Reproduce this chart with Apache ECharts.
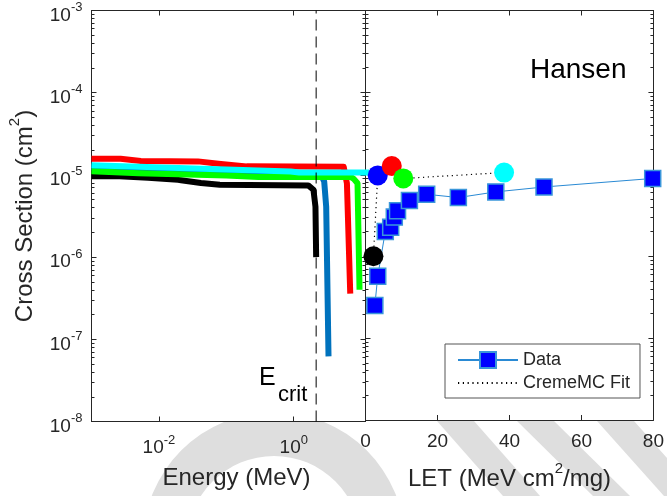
<!DOCTYPE html>
<html><head><meta charset="utf-8">
<script src="https://cdn.jsdelivr.net/npm/echarts@6/dist/echarts.min.js"></script>
<style>html,body{margin:0;padding:0;background:#fff}#chart{width:667px;height:496px}</style>
</head><body><div id="chart"></div>
<script>
// Cross section vs. deposited energy for each strike (MeV, cm^2)
const blackCurve = [[0.001,9.6e-6],[0.0026,9.6e-6],[0.0069,9.2e-6],[0.0192,8.7e-6],[0.0213,8.6e-6],[0.042,7.95e-6],[0.08,7.6e-6],[1.64,7.45e-6],[1.96,6.6e-6],[2.10,4.1e-6],[2.15,1.0e-6]];
const blueCurve = [[0.001,1.24e-5],[0.1,1.1e-5],[0.9,1.02e-5],[2.6,9.6e-6],[2.83,8.3e-6],[3.03,4.1e-6],[3.28,6.2e-8]];
const redCurve = [[0.001,1.57e-5],[0.0027,1.57e-5],[0.0054,1.48e-5],[0.038,1.46e-5],[0.083,1.36e-5],[0.2,1.27e-5],[5.5,1.26e-5],[5.8,1.2e-5],[6.15,7.9e-6],[6.89,3.6e-7]];
const greenCurve = [[0.001,1.11e-5],[0.005,1.05e-5],[0.1,9.8e-6],[0.3,9.4e-6],[7.1,9.4e-6],[7.71,9.0e-6],[8.83,7.9e-6],[9.46,4.0e-7]];
const cyanCurve = [[0.001,1.31e-5],[0.1,1.16e-5],[0.9,1.1e-5],[1.2,1.07e-5],[20,1.07e-5]];
const ECRIT = 2.15;

// Heavy-ion test data (LET in MeV cm^2/mg)
const letData = [2.6, 3.4, 5.5, 7.0, 8.0, 8.9, 12.2, 17.0, 25.8, 36.2, 49.6, 79.8];
const xsData = [2.5e-7, 5.7e-7, 2.0e-6, 2.25e-6, 3.0e-6, 3.6e-6, 4.8e-6, 5.7e-6, 5.2e-6, 6.1e-6, 7.0e-6, 8.9e-6];

// CREME-MC fit points
const fitLet = [2.2, 3.4, 7.3, 10.5, 38.5];
const fitXs = [1.0e-6, 9.7e-6, 1.26e-5, 8.9e-6, 1.05e-5];
const fitColors = ['#000000', '#0000ff', '#ff0000', '#00ff00', '#00ffff'];

// Axis ticks
const yMajor = [1e-8, 1e-7, 1e-6, 1e-5, 1e-4, 1e-3];
const energyTicks = [0.01, 1];
const FONT = "'Liberation Sans', Arial, Helvetica, sans-serif";
const INK = '#262626';
const SHADE = '#dedede';

const yMinor = [];
for (let k = -8; k < -3; k++) for (let m = 2; m <= 9; m++) yMinor.push(m * Math.pow(10, k));

const pow10 = v => '{b|10}{s|' + Math.round(Math.log10(v)) + '}';
const supRich = {
  b: {fontSize: 19, fontFamily: FONT, color: INK, verticalAlign: 'bottom'},
  s: {fontSize: 13, fontFamily: FONT, color: INK, verticalAlign: 'top', padding: [5, 0, 11, 0]}
};
const nameRich = {
  a: {fontSize: 24, fontFamily: FONT, color: INK, verticalAlign: 'bottom'},
  s: {fontSize: 15, fontFamily: FONT, color: INK, verticalAlign: 'top', padding: [5, 0, 15, 0]}
};
const line = {show: true, lineStyle: {color: INK, width: 1}};

function yAxes(grid, side, labels) {
  return [
    {type: 'log', gridIndex: grid, position: side, min: 1e-8, max: 1e-3,
     axisLine: line, splitLine: {show: false},
     axisTick: {inside: true, length: 5, customValues: yMajor, lineStyle: {color: INK}},
     axisLabel: labels ? {show: true, customValues: yMajor, formatter: pow10, rich: supRich, margin: 9} : {show: false},
     ...(labels ? {name: '{a|Cross Section (cm}{s|2}{a|)}', nameLocation: 'middle', nameGap: 54, nameRotate: 90,
       nameMoveOverlap: false, nameTextStyle: {rich: nameRich}} : {})},
    {type: 'log', gridIndex: grid, position: side, min: 1e-8, max: 1e-3,
     axisLine: {show: false}, splitLine: {show: false}, axisLabel: {show: false},
     axisTick: {inside: true, length: 3, customValues: yMinor, lineStyle: {color: INK}}}
  ];
}

const curve = (data, color) => ({
  type: 'line', xAxisIndex: 0, yAxisIndex: 0, data, symbol: 'none', silent: true,
  lineStyle: {color, width: 6, cap: 'butt', join: 'round'}, clip: true
});

// slanted background band: left edge from (x0, 423) to (x1, 496), given width
const band = (x0, x1, w) => ({
  type: 'polygon', z: -100, silent: true,
  shape: {points: [[x0, 421], [x0 + w, 421], [x1 + w, 496], [x1, 496]]},
  style: {fill: SHADE}
});

const option = {
  animation: false,
  backgroundColor: '#fff',
  grid: [
    {left: 91.5, top: 10.5, width: 274, height: 411, show: true, backgroundColor: '#fff', borderWidth: 0},
    {left: 365.5, top: 10.5, width: 290.5, height: 411, show: true, backgroundColor: '#fff', borderWidth: 0}
  ],
  xAxis: [
    {type: 'log', gridIndex: 0, position: 'bottom', min: 0.001, max: 11.6,
     axisLine: line, splitLine: {show: false},
     axisTick: {inside: true, length: 5, customValues: energyTicks, lineStyle: {color: INK}},
     axisLabel: {customValues: energyTicks, formatter: pow10, rich: supRich, margin: 7},
     name: 'Energy (MeV)', nameLocation: 'middle', nameGap: 45, nameMoveOverlap: false,
     nameTextStyle: {fontSize: 24, fontFamily: FONT, color: INK, padding: [0, 0, 0, 16]}},
    {type: 'log', gridIndex: 0, position: 'top', min: 0.001, max: 11.6,
     axisLine: line, splitLine: {show: false}, axisLabel: {show: false},
     axisTick: {inside: true, length: 5, customValues: energyTicks, lineStyle: {color: INK}}},
    {type: 'value', gridIndex: 1, position: 'bottom', min: 0, max: 80, interval: 20,
     axisLine: line, splitLine: {show: false},
     axisTick: {inside: true, length: 5, lineStyle: {color: INK}},
     axisLabel: {fontSize: 19, fontFamily: FONT, color: INK, margin: 12},
     name: '{a|LET (MeV cm}{s|2}{a|/mg)}', nameLocation: 'middle', nameGap: 36, nameMoveOverlap: false,
     nameTextStyle: {rich: nameRich}},
    {type: 'value', gridIndex: 1, position: 'top', min: 0, max: 80, interval: 20,
     axisLine: line, splitLine: {show: false}, axisLabel: {show: false},
     axisTick: {inside: true, length: 5, lineStyle: {color: INK}}}
  ],
  yAxis: [
    ...yAxes(0, 'left', true),
    ...yAxes(0, 'right', false),
    ...yAxes(1, 'left', false),
    ...yAxes(1, 'right', false)
  ],
  legend: {
    data: ['Data', {name: 'CremeMC Fit', itemStyle: {opacity: 0}}], orient: 'vertical', left: 445, top: 344,
    itemWidth: 60, itemHeight: 20, itemGap: 5, padding: [7, 10, 6, 12],
    backgroundColor: '#fff', borderColor: '#555', borderWidth: 1, selectedMode: false,
    textStyle: {fontSize: 18, fontFamily: FONT, color: INK}
  },
  graphic: [
    // faint background emblem, sitting behind the axes panels
    {type: 'ring', z: -100, silent: true, shape: {cx: 274, cy: 543, r: 131, r0: 87}, style: {fill: SHADE}},
    band(437, 503, 37),
    band(517, 593, 37),
    band(597, 664, 37),
    {type: 'text', left: 530, top: 56, style: {text: 'Hansen', font: '28px ' + FONT, fill: '#000'}},
    {type: 'text', left: 259, top: 366, style: {text: 'E', font: '25px ' + FONT, fill: '#000'}},
    {type: 'text', left: 278, top: 384, style: {text: 'crit', font: '22px ' + FONT, fill: '#000'}}
  ],
  series: [
    curve(blackCurve, '#000000'),
    curve(blueCurve, '#0072BD'),
    curve(redCurve, '#ff0000'),
    curve(greenCurve, '#00ff00'),
    curve(cyanCurve, '#00ffff'),
    {type: 'line', xAxisIndex: 0, yAxisIndex: 0, symbol: 'none', silent: true,
     data: [[ECRIT, 1e-8], [ECRIT, 1e-3]], lineStyle: {color: '#000', width: 1, type: [11, 6]}},
    {name: 'CremeMC Fit', type: 'line', xAxisIndex: 2, yAxisIndex: 4, symbol: 'none', silent: true,
     data: fitLet.map((x, i) => [x, fitXs[i]]),
     lineStyle: {color: '#000', width: 1.2, type: [1.2, 3.6]}, itemStyle: {color: '#000'}},
    {name: 'Data', type: 'line', xAxisIndex: 2, yAxisIndex: 4, symbol: 'rect', symbolSize: 16, silent: true,
     data: letData.map((x, i) => [x, xsData[i]]),
     lineStyle: {color: '#2a8ad4', width: 1},
     itemStyle: {color: '#0000ff', borderColor: '#3a96da', borderWidth: 1.5}, z: 3},
    {type: 'scatter', xAxisIndex: 2, yAxisIndex: 4, symbol: 'circle', symbolSize: 20, silent: true, z: 4,
     data: fitLet.map((x, i) => ({value: [x, fitXs[i]], itemStyle: {color: fitColors[i], opacity: 1}}))}
  ]
};

const chart = echarts.init(document.getElementById('chart'), null, {renderer: 'canvas'});
chart.setOption(option);
</script>
</body></html>
